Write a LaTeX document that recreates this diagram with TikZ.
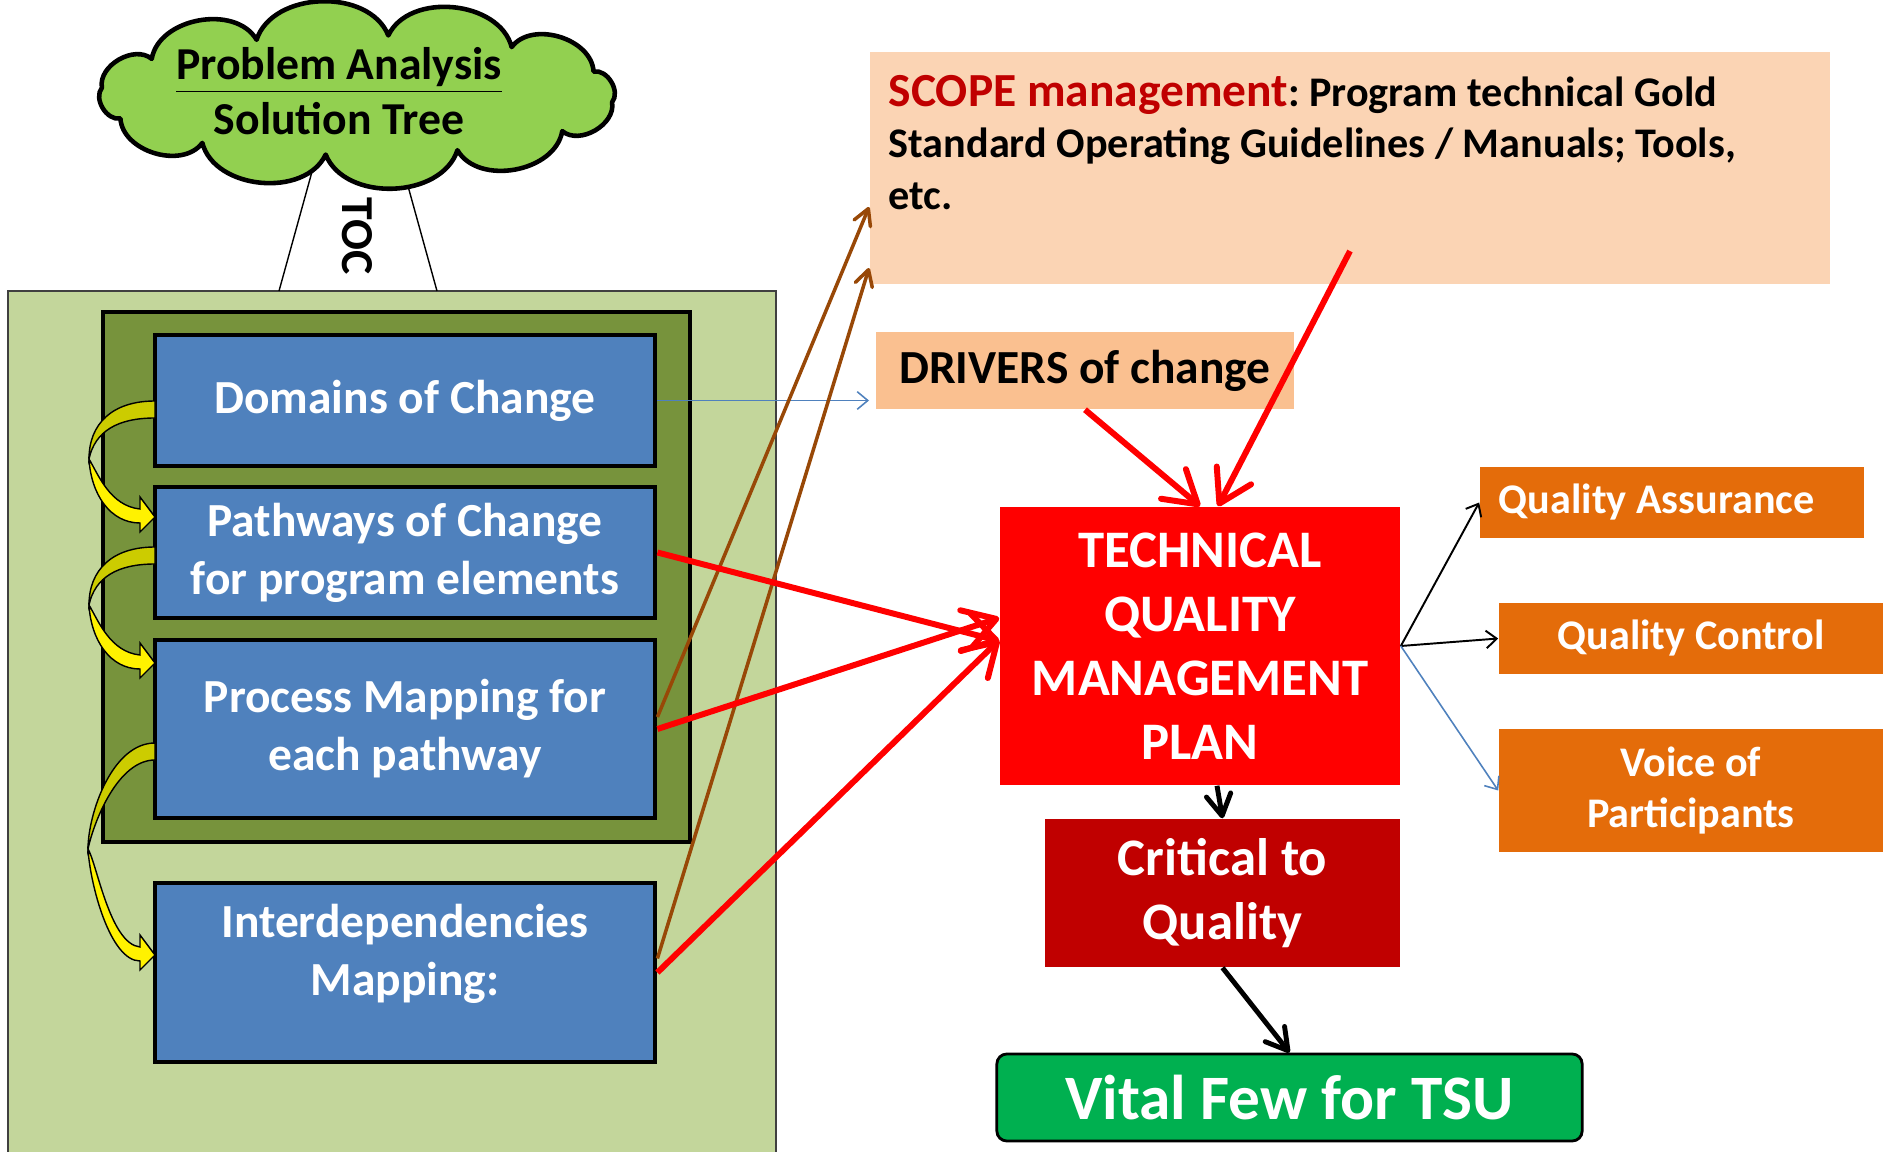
\documentclass[tikz,border=0pt]{standalone}
\usepackage{fontspec}
\setmainfont{Carlito}
\usetikzlibrary{arrows.meta}

\definecolor{bggreen}{HTML}{C3D69B}
\definecolor{olivegreen}{HTML}{77933C}
\definecolor{boxblue}{HTML}{4F81BD}
\definecolor{cloudgreen}{HTML}{92D050}
\definecolor{scopepeach}{HTML}{FBD4B4}
\definecolor{driverpeach}{HTML}{FAC090}
\definecolor{darkred}{HTML}{C00000}
\definecolor{vitalgreen}{HTML}{00B050}
\definecolor{qorange}{HTML}{E46C0A}
\definecolor{brownline}{HTML}{984807}
\definecolor{darkyellow}{HTML}{CCCC00}

\tikzstyle{treecloud}=[draw=black, line width=1.3pt, fill=cloudgreen, line join=round]
\tikzstyle{bluebox}=[rectangle, draw=black, line width=1.3pt, fill=boxblue, text=white, minimum width=5cm, align=center, font=\fontsize{13.5}{16.5}\selectfont\bfseries]
\tikzstyle{orangebox}=[rectangle, fill=qorange, text=white, minimum width=3.84cm, align=center, font=\fontsize{12}{14.7}\selectfont\bfseries]
\tikzstyle{plan}=[rectangle, fill=red, text=white, align=center, font=\fontsize{15}{18.2}\selectfont\bfseries]
\tikzstyle{redarrow}=[draw=red, line width=1.7pt, -{Straight Barb[round,length=9pt,width=11pt]}]
\tikzstyle{brownarrow}=[draw=brownline, line width=1pt, -{Straight Barb[round,length=4.5pt,width=5pt]}]
\tikzstyle{bluearrow}=[draw=boxblue, line width=0.45pt, -{Straight Barb[length=3pt,width=5pt]}]
\tikzstyle{thinarrow}=[draw=black, line width=0.55pt, -{Straight Barb[length=3pt,width=5pt]}]
\tikzstyle{blackarrow}=[draw=black, line width=1.4pt, -{Straight Barb[round,length=6pt,width=7pt]}]
\newcommand{\bluebox}{\node[bluebox]}
\newcommand{\orangebox}{\node[orangebox]}
\newcommand{\bendarrow}[3]{%
\pgfmathsetmacro{\bendmid}{(#1+#2)/2}
\filldraw[fill=darkyellow, draw=black, line width=0.4pt] (155,#1) .. controls (112,#1) and (#3,{\bendmid-35}) .. (#3,\bendmid) .. controls ({#3+6},{\bendmid-28}) and (118,{#1+17}) .. (155,{#1+17}) -- cycle;
\filldraw[fill=yellow, draw=black, line width=0.4pt] (#3,\bendmid) .. controls ({#3+2},{\bendmid+35}) and (110,{#2+6}) .. (140,{#2+6}) -- (140,{#2+15}) -- (155,#2) -- (140,{#2-20}) -- (140,{#2-8}) .. controls (110,{#2-11}) and ({#3+9},{\bendmid+15}) .. (#3,\bendmid) -- cycle;
}

\begin{document}
\frenchspacing
\begin{tikzpicture}[x=0.01cm, y=-0.01cm]
\useasboundingbox (0,0) rectangle (1884,1152);
\draw[fill=bggreen, draw=black!75, line width=0.5pt] (8,291) rectangle (776,1170);
\draw[fill=olivegreen, line width=1.4pt] (103,312) rectangle (690,842);
\draw[line width=0.4pt] (318,150) -- (279,291) (398,150) -- (437,291);
\draw[treecloud] ({357+257*cos(7)},{95+60*sin(7)}) \foreach \k in {1,...,12} { to[bend left=70] ({357+257*cos(\k*30+7)},{95+60*sin(\k*30+7)}) } -- cycle;
\node[align=center, font=\fontsize{13}{15.6}\selectfont\bfseries] (tree) at (339,91) {\underline{Problem Analysis}\\Solution Tree};
\node[rotate=-90, font=\fontsize{13}{15}\selectfont\bfseries] (toc) at (357,236) {TOC};

\bluebox (dom) [minimum height=1.31cm] at (405,400.5) {Domains of Change};
\bluebox (path) [minimum height=1.31cm] at (405,552.5) {Pathways of Change\\for program elements};
\bluebox (proc) [minimum height=1.78cm] at (405,729) {Process Mapping for\\each pathway};
\bluebox (inter) [minimum height=1.79cm, text depth=0.45cm] at (405,972.5) {Interdependencies\\Mapping:};
\bendarrow{401}{517}{89}
\bendarrow{547}{663}{89}
\bendarrow{743}{955}{88}

\node[fill=scopepeach, minimum width=9.6cm, minimum height=2.32cm, text width=9.22cm, align=flush left, font=\fontsize{12}{14.65}\selectfont\bfseries] (scope) at (1350,168) {{\color{darkred}\fontsize{13.5}{14.65}\selectfont SCOPE management}: Program technical Gold\\Standard Operating Guidelines / Manuals; Tools,\\etc.\\~};
\node[fill=driverpeach, minimum width=4.18cm, minimum height=0.77cm, font=\fontsize{13.5}{16}\selectfont\bfseries] (drv) at (1085,370.5) {DRIVERS of change};
\node[plan, minimum width=4cm, minimum height=2.78cm] (tqmp) at (1200,646) {TECHNICAL\\QUALITY\\MANAGEMENT\\PLAN};
\node[plan, fill=darkred, minimum width=3.55cm, minimum height=1.48cm, font=\fontsize{15}{18}\selectfont\bfseries] (crit) at (1222.5,893) {Critical to\\Quality};
\node[draw=black, line width=0.8pt, rounded corners=0.1cm, fill=vitalgreen, text=white, minimum width=5.85cm, minimum height=0.87cm, font=\fontsize{18}{20}\selectfont\bfseries] (vital) at (1289.5,1097.5) {Vital Few for TSU};
\orangebox (qa) [minimum height=0.71cm, text width=3.46cm, inner xsep=0.19cm, align=flush left] at (1672,502.5) {Quality Assurance};
\orangebox (qc) [minimum height=0.71cm] at (1691,638.5) {Quality Control};
\orangebox (voice) [minimum height=1.23cm] at (1691,790.5) {Voice of\\Participants};

\path
(dom.east) edge[bluearrow] (dom.east -| scope.west)
([yshift=0.12cm]proc.east) edge[brownarrow] ([yshift=-0.39cm]scope.west)
([yshift=0.14cm]inter.east) edge[brownarrow] ([yshift=-1.0cm]scope.west)
(path.east) edge[redarrow] ([yshift=0.05cm]tqmp.west)
(proc.east) edge[redarrow] ([yshift=0.28cm]tqmp.west)
(inter.east) edge[redarrow] ([yshift=0.06cm]tqmp.west)
(drv.south) edge[redarrow] (tqmp.north)
([yshift=-0.83cm]scope.center) edge[redarrow] ([xshift=0.18cm]tqmp.north)
(tqmp.east) edge[thinarrow] (qa.west)
(tqmp.east) edge[thinarrow] (qc.west)
(tqmp.east) edge[bluearrow] (voice.west)
([xshift=0.17cm]tqmp.south) edge[blackarrow] (crit.north)
(crit.south) edge[blackarrow] (vital.north)
;
\end{tikzpicture}
\end{document}
